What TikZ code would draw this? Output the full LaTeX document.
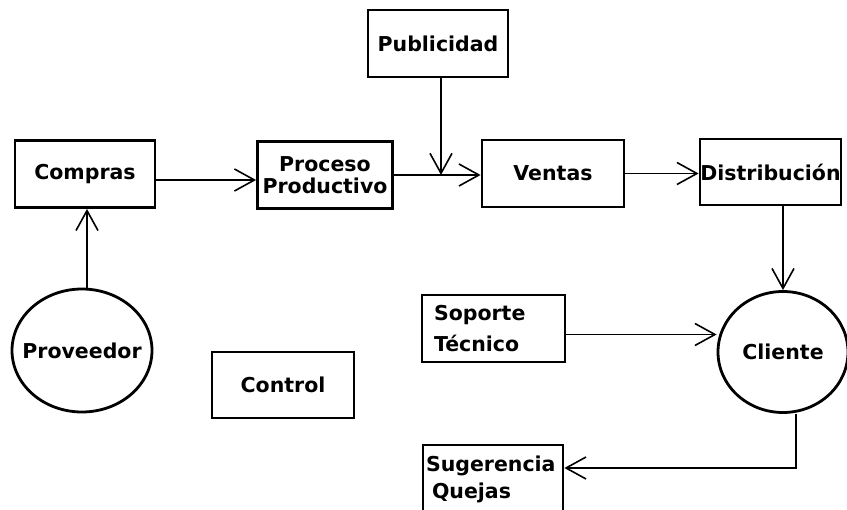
\documentclass[tikz,border=0pt]{standalone}
\usepackage{fontspec}
\setsansfont{DejaVu Sans}
\usetikzlibrary{arrows.meta}
\usetikzlibrary{shapes.geometric}

\begin{document}
\begin{tikzpicture}[x=1pt, y=-1pt, >={Straight Barb[length=20pt,width=22pt]},
  box/.style={draw, rectangle, line width=2.8pt, minimum width=140pt, minimum height=67pt, inner sep=2pt,
    font=\sffamily\bfseries\fontsize{20.5}{24}\selectfont, align=center},
  ent/.style={draw, ellipse, line width=2.8pt, inner sep=0pt,
    font=\sffamily\bfseries\fontsize{20.5}{24}\selectfont},
  flow/.style={->, line width=1.6pt}]
  % \draw[gray, very thin, step=50] (0,0) grid (847,510);
  \useasboundingbox (0,0) rectangle (847,510);
  \clip (0,0) rectangle (847,510);

  \node[name=compras, box] at (85,174){Compras};
  \node[name=proceso, box, minimum width=135pt] at (325,175){Proceso\\[-2pt]Productivo};
  \node[name=publicidad, box] at (438,43.5){Publicidad};
  \node[name=ventas, box, minimum width=142pt] at (553,173.5){Ventas};
  \node[name=distribucion, box, minimum width=141pt, minimum height=66pt, inner xsep=0pt] at (770.5,172){Distribución};

  \node[name=proveedor, ent, minimum width=140pt, minimum height=123pt] at (82,350.5){\makebox[0pt]{Proveedor}};
  \node[name=control, box, minimum width=142pt, minimum height=66pt] at (283,385){Control};
  \node[name=soporte, box, minimum width=143pt, text width=119pt, align=left] at (493.5,328.5){Soporte\\[7pt]Técnico};
  \node[name=cliente, ent, minimum width=130pt, minimum height=121pt] at (783,352){Cliente};
  \node[name=sugerencia, box, minimum height=68pt, text width=134pt, align=left] at (493,479){Sugerencia\\[3pt]\hspace*{6pt}Quejas};

  \coordinate (junta) at (441,175);

  \draw[flow] ([xshift=5pt]proveedor.north) -- ([xshift=5pt]proveedor.north |- compras.south);
  \draw[flow] ([yshift=-6pt]compras.east) -- ([yshift=-6pt]compras.east -| proceso.west);
  \draw[flow] (proceso.east) -- (proceso.east -| ventas.west);
  \draw[flow] (publicidad.south -| junta) -- (junta);
  \draw[flow] (ventas.east) -- (ventas.east -| distribucion.west);
  \draw[flow] (distribucion.south -| cliente.north) -- (cliente.north);
  \draw[flow] ([yshift=-6pt]soporte.east) -- ([yshift=-6pt]soporte.east -| cliente.west);
  \draw[flow] ([xshift=13pt]cliente.south) |- ([yshift=11pt]sugerencia.east);
\end{tikzpicture}
\end{document}
